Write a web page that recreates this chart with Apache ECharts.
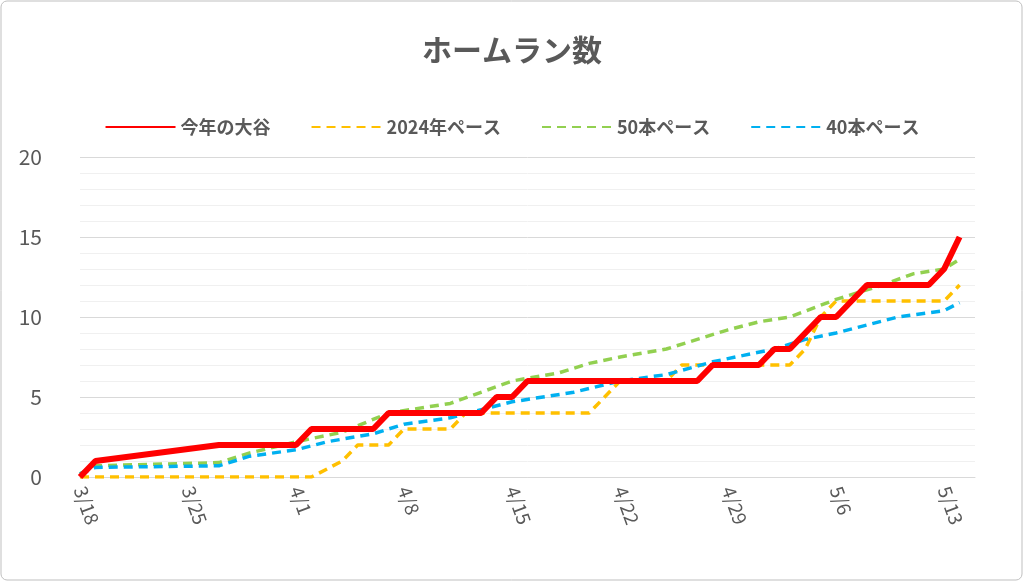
<!DOCTYPE html>
<html>
<head>
<meta charset="utf-8">
<script src="https://cdn.jsdelivr.net/npm/echarts@6/dist/echarts.min.js"></script>
<style>
  html, body { margin: 0; padding: 0; background: #fff; }
  #main { width: 1024px; height: 582px; }
</style>
</head>
<body>
<div id="main"></div>
<script>
    // x = days since 3/18
    var seriesNames = ['今年の大谷', '2024年ペース', '50本ペース', '40本ペース'];
    var ohtani = [[0,0],[1,1],[9,2],[14,2],[15,3],[19,3],[20,4],[26,4],[27,5],[28,5],[29,6],[40,6],[41,7],[44,7],[45,8],[46,8],[48,10],[49,10],[51,12],[55,12],[56,13],[57,15]];
    var pace2024 = [[0,0],[15,0],[17,1],[18,2],[20,2],[21,3],[24,3],[25,4],[33,4],[34,5],[35,6],[38,6],[39,7],[46,7],[47,8],[48,10],[49,11],[56,11],[57,12]];
    var pace50 = [[0,0.2],[1,0.7],[9,0.9],[11,1.5],[14,2.2],[17,2.8],[20,4],[24,4.6],[28,6],[31,6.5],[33,7.1],[35,7.5],[38,8],[42,9.2],[44,9.7],[46,10],[49,11.1],[52,12],[54,12.7],[56,13],[57,13.6]];
    var pace40 = [[0,0.2],[1,0.6],[9,0.7],[11,1.3],[14,1.7],[16,2.2],[19,2.7],[21,3.3],[24,3.7],[28,4.7],[32,5.3],[35,6],[38,6.4],[41,7.2],[43,7.6],[45,8],[47,8.6],[49,9],[51,9.5],[53,10],[56,10.4],[57,10.9]];
    var tickLabels = ['3/18', '3/25', '4/1', '4/8', '4/15', '4/22', '4/29', '5/6', '5/13'];

    var chart = echarts.init(document.getElementById('main'));
    var font = "'Noto Sans CJK JP', sans-serif";
    function line(name, data, color, type, width) {
        return {
            name: name, type: 'line', data: data, symbol: 'none',
            lineStyle: { color: color, type: type, width: width },
            itemStyle: { color: color }
        };
    }
    chart.setOption({
        animation: false,
        graphic: [{
            type: 'rect', shape: { x: 1, y: 1, width: 1021, height: 579, r: 6 },
            style: { fill: 'none', stroke: '#bfbfbf', lineWidth: 1 }
        }],
        title: {
            text: 'ホームラン数', left: 'center', top: 30,
            textStyle: { fontFamily: font, fontSize: 30, fontWeight: 'bold', color: '#595959' }
        },
        legend: {
            top: 113, left: 'center', itemWidth: 70, itemHeight: 14, itemGap: 40,
            itemStyle: { opacity: 0 },
            data: seriesNames,
            textStyle: { fontFamily: font, fontSize: 18, fontWeight: 'bold', color: '#595959' }
        },
        grid: { left: 80, right: 49, top: 157, bottom: 105 },
        xAxis: {
            type: 'value', min: 0, max: 58, interval: 7,
            axisLine: { lineStyle: { color: '#d9d9d9' } },
            axisTick: { show: false },
            splitLine: { show: false },
            axisLabel: {
                rotate: -70, fontFamily: font, fontSize: 19, color: '#595959', margin: 10,
                formatter: function (v) { return tickLabels[v / 7] || ''; }
            }
        },
        yAxis: {
            type: 'value', min: 0, max: 20, interval: 1,
            axisLine: { show: false }, axisTick: { show: false },
            splitLine: { lineStyle: { color: ['#d9d9d9', '#f0f0f0', '#f0f0f0', '#f0f0f0', '#f0f0f0'], width: 1 } },
            axisLabel: {
                fontFamily: font, fontSize: 21, color: '#595959', margin: 38,
                formatter: function (v) { return v % 5 === 0 ? String(v) : ''; }
            }
        },
        series: [
            line(seriesNames[1], pace2024, '#ffc000', [9, 6], 3.5),
            line(seriesNames[2], pace50, '#92d050', [9, 6], 3.5),
            line(seriesNames[3], pace40, '#00b0f0', [9, 6], 3.5),
            line(seriesNames[0], ohtani, '#ff0000', 'solid', 6)
        ]
    });
</script>
</body>
</html>
